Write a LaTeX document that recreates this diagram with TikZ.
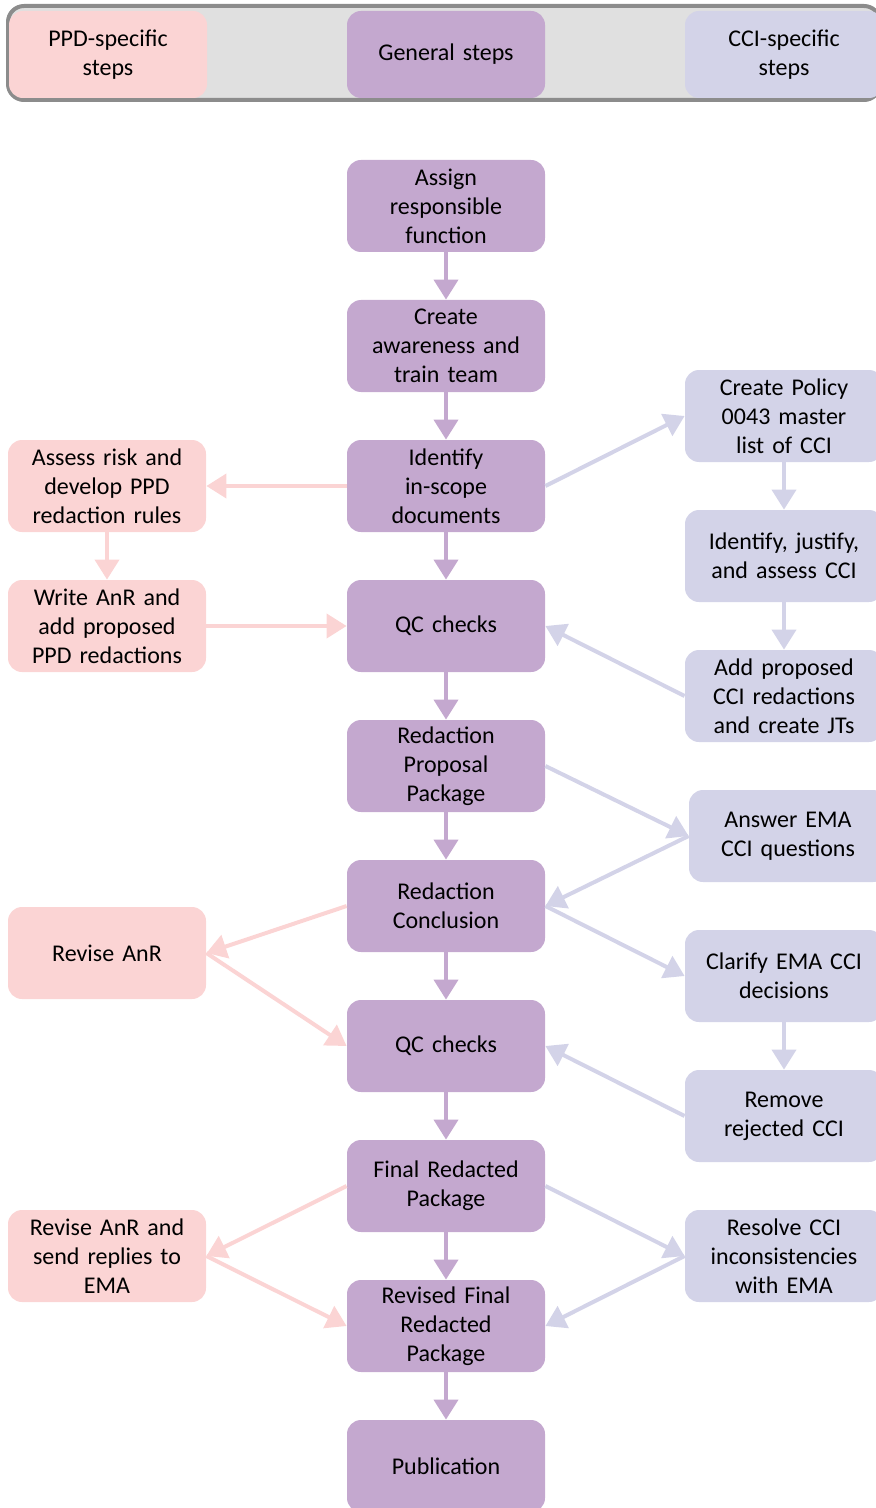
\documentclass[tikz,border=0pt]{standalone}
\usepackage{fontspec}
\setmainfont{Carlito}
\usetikzlibrary{arrows.meta}

\definecolor{ppdpink}{HTML}{FBD4D4}
\definecolor{genpurple}{HTML}{C4A8CF}
\definecolor{ccililac}{HTML}{D3D3E8}
\definecolor{bandgray}{HTML}{E0E0E0}
\definecolor{rimgray}{HTML}{8C8C8C}

\tikzset{
  stepbox/.style={rounded corners=7pt, minimum width=99pt, minimum height=46pt,
    text width=97pt, inner sep=0pt, align=center,
    font=\fontsize{12}{14.5}\selectfont},
  genbox/.style={stepbox, fill=genpurple},
  ppdbox/.style={stepbox, fill=ppdpink},
  ccibox/.style={stepbox, fill=ccililac},
  link/.style={line width=2pt, -{Triangle[width=12pt,length=10pt]}},
}

\begin{document}
\begin{tikzpicture}[x=0.5pt, y=-0.5pt]
    \useasboundingbox (0,0) rectangle (876,1508);

    % legend band
    \draw[rimgray, line width=2pt, fill=bandgray, rounded corners=8pt] (8,6) rectangle (880,100);
    \node[ppdbox, minimum height=43.5pt] (keyppd) at (108,54.5) {PPD-specific\\steps};
    \node[genbox, minimum height=43.5pt] (keygen) at (446,54.5) {General steps};
    \node[ccibox, minimum height=43.5pt] (keycci) at (784,54.5) {CCI-specific\\steps};

    % general steps
    \node[genbox] (assign) at (446,206) {Assign\\responsible\\function};
    \node[genbox] (aware) at (446,346) {Create\\awareness and\\train team};
    \node[genbox] (scope) at (446,486) {Identify\\in-scope\\documents};
    \node[genbox] (qcone) at (446,626) {QC checks};
    \node[genbox] (proposal) at (446,766) {Redaction\\Proposal\\Package};
    \node[genbox] (conclusion) at (446,906) {Redaction\\Conclusion};
    \node[genbox] (qctwo) at (446,1046) {QC checks};
    \node[genbox] (final) at (446,1186) {Final Redacted\\Package};
    \node[genbox] (revised) at (446,1326) {Revised Final\\Redacted\\Package};
    \node[genbox] (publish) at (446,1466) {Publication};

    % PPD steps
    \node[ppdbox] (risk) at (107,486) {Assess risk and\\develop PPD\\redaction rules};
    \node[ppdbox] (anr) at (107,626) {Write AnR and\\add proposed\\PPD redactions};
    \node[ppdbox] (revanr) at (107,953) {Revise AnR};
    \node[ppdbox] (replies) at (107,1256) {Revise AnR and\\send replies to\\EMA};

    % CCI steps
    \node[ccibox] (policy) at (784,416) {Create Policy\\0043 master\\list of CCI};
    \node[ccibox] (justify) at (784,556) {Identify, justify,\\and assess CCI};
    \node[ccibox] (addcci) at (784,696) {Add proposed\\CCI redactions\\and create JTs};
    \node[ccibox] (answer) at (788,836) {Answer EMA\\CCI questions};
    \node[ccibox] (clarify) at (784,976) {Clarify EMA CCI\\decisions};
    \node[ccibox] (remove) at (784,1116) {Remove\\rejected CCI};
    \node[ccibox] (resolve) at (784,1256) {Resolve CCI\\inconsistencies\\with EMA};

    % main line
    \foreach \a/\b in {assign/aware, aware/scope, scope/qcone, qcone/proposal,
        proposal/conclusion, conclusion/qctwo, qctwo/final, final/revised, revised/publish}
      \draw[link, genpurple] (\a.south) -- (\b.north);

    % PPD links
    \draw[link, ppdpink] (scope.west) -- (risk.east);
    \draw[link, ppdpink] (risk.south) -- (anr.north);
    \draw[link, ppdpink] (anr.east) -- (qcone.west);
    \draw[link, ppdpink] (conclusion.west) -- (revanr.east);
    \draw[link, ppdpink] (revanr.east) -- (qctwo.west);
    \draw[link, ppdpink] (final.west) -- (replies.east);
    \draw[link, ppdpink] (replies.east) -- (revised.west);

    % CCI links
    \draw[link, ccililac] (scope.east) -- (policy.west);
    \draw[link, ccililac] (policy.south) -- (justify.north);
    \draw[link, ccililac] (justify.south) -- (addcci.north);
    \draw[link, ccililac] (addcci.west) -- (qcone.east);
    \draw[link, ccililac] (proposal.east) -- (answer.west);
    \draw[link, ccililac] (answer.west) -- (conclusion.east);
    \draw[link, ccililac] (conclusion.east) -- (clarify.west);
    \draw[link, ccililac] (clarify.south) -- (remove.north);
    \draw[link, ccililac] (remove.west) -- (qctwo.east);
    \draw[link, ccililac] (final.east) -- (resolve.west);
    \draw[link, ccililac] (resolve.west) -- (revised.east);
\end{tikzpicture}
\end{document}
